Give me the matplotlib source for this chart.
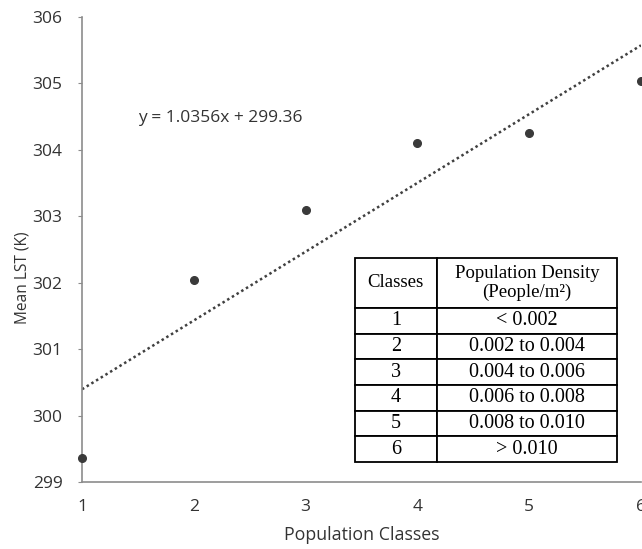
import numpy as np
import matplotlib
matplotlib.use("Agg")
import matplotlib.pyplot as plt

# data
classes = [1, 2, 3, 4, 5, 6]
mean_lst = [299.36, 302.04, 303.10, 304.10, 304.26, 305.04]
slope, intercept = 1.0356, 299.36

table_header = ["Classes", "Population Density\n(People/m²)"]
table_rows = [
    ["1", "< 0.002"],
    ["2", "0.002 to 0.004"],
    ["3", "0.004 to 0.006"],
    ["4", "0.006 to 0.008"],
    ["5", "0.008 to 0.010"],
    ["6", "> 0.010"],
]

plt.rcParams['font.family'] = ['Open Sans', 'DejaVu Sans']
text_col = '#333333'
axis_col = '#8c8c8c'

fig = plt.figure(figsize=(6.42, 5.49), dpi=100)
ax = fig.add_axes([82 / 642, 1 - 482 / 549, 559 / 642, 465 / 549])

# trend line
xs = np.array([1, 6])
ax.plot(xs, slope * xs + intercept, linestyle=(0, (1, 1.2)), color='#404040',
        linewidth=1.8, zorder=2)
ax.plot(classes, mean_lst, 'o', color='#3a3a3a', markersize=5.5, zorder=3,
        clip_on=False)

ax.text(1.5, 304.48, "y = 1.0356x + 299.36", fontsize=12.5, color=text_col,
        va='center', ha='left')

ax.set_xlim(1, 6)
ax.set_ylim(299, 306)
ax.set_xticks(classes)
ax.set_yticks(range(299, 307))
ax.tick_params(axis='x', length=0, pad=12, labelsize=12.5, labelcolor=text_col)
ax.tick_params(axis='y', length=3, width=0.8, color=axis_col, pad=11,
               labelsize=12.5, labelcolor=text_col)
for s in ['top', 'right']:
    ax.spines[s].set_visible(False)
for s in ['left', 'bottom']:
    ax.spines[s].set_color(axis_col)
    ax.spines[s].set_linewidth(1.2)

ax.set_xlabel("Population Classes", fontsize=12.8, color=text_col, labelpad=8)
ax.set_ylabel("Mean LST (K)", fontsize=11.2, color=text_col)
ax.yaxis.set_label_coords(-0.093, 0.439)

# class table
tbl = ax.table(cellText=table_rows, colLabels=table_header,
               colWidths=[0.313, 0.687], cellLoc='center',
               bbox=[0.488, 0.043, 0.469, 0.439], zorder=4)
tbl.auto_set_font_size(False)
for (r, c), cell in tbl.get_celld().items():
    cell.set_edgecolor('black')
    cell.set_linewidth(1.3)
    cell.set_facecolor('white')
    cell.set_height(1.95 if r == 0 else 1.0)
    t = cell.get_text()
    t.set_fontfamily('Liberation Serif')
    t.set_fontsize(13.5 if r == 0 else 14.5)
    t.set_color('black')
    if r == 0:
        t.set_linespacing(1.1)

fig.savefig("out.png", dpi=100)
